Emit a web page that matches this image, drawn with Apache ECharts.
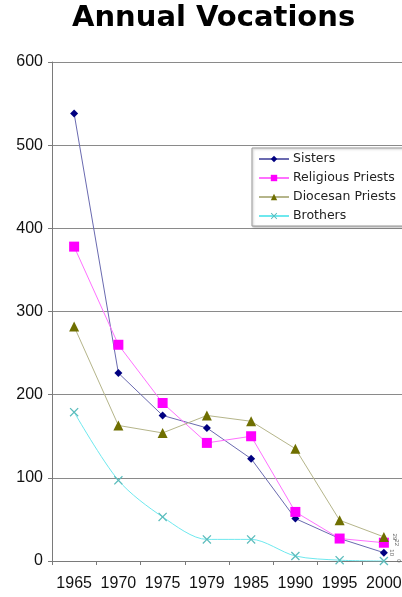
<!DOCTYPE html>
<html>
<head>
<meta charset="utf-8">
<script src="https://cdn.jsdelivr.net/npm/echarts@6/dist/echarts.min.js"></script>
<style>
  html, body { margin: 0; padding: 0; background: #fff; }
  #chart { width: 402px; height: 597px; }
</style>
</head>
<body>
<div id="chart"></div>
<script>
// Annual vocations by year
const years = ['1965', '1970', '1975', '1979', '1985', '1990', '1995', '2000'];
const sisters = [538, 226, 175, 160, 123, 51, 27, 10];
const religiousPriests = [378, 260, 190, 142, 150, 59, 27, 22];
const diocesanPriests = [282, 163, 154, 175, 168, 135, 49, 29];
const brothers = [179, 97, 53, 26, 26, 6, 1, 0];
const yTicks = { min: 0, max: 600, step: 100 };

const crossPath = 'path://M0,1L1,0L5,4L9,0L10,1L6,5L10,9L9,10L5,6L1,10L0,9L4,5Z';

// final-year values get a small rotated label beside the last point
function withEndLabel(values, dy) {
  return values.map((v, i) => i === values.length - 1 ? {
    value: v,
    label: {
      show: true, position: 'right', distance: 6, rotate: -90,
      align: 'center', verticalAlign: 'middle', offset: [0, dy],
      fontSize: 6, color: '#666', fontFamily: 'Liberation Sans'
    }
  } : v);
}

const chart = echarts.init(document.getElementById('chart'), null, { renderer: 'canvas' });
chart.setOption({
  animation: false,
  backgroundColor: '#fff',
  title: {
    text: 'Annual Vocations',
    left: 72, top: 4, padding: 0,
    textStyle: { fontFamily: 'DejaVu Sans', fontWeight: 'bold', fontSize: 29, color: '#000' }
  },
  legend: {
    orient: 'vertical',
    left: 252, top: 148,
    padding: [4, 12, 3, 6],
    itemWidth: 30, itemHeight: 8, itemGap: 5,
    backgroundColor: '#fff',
    borderColor: '#9a9a9a', borderWidth: 1,
    shadowColor: 'rgba(0,0,0,0.25)', shadowOffsetX: 1, shadowOffsetY: 1, shadowBlur: 2,
    textStyle: { fontFamily: 'DejaVu Sans', fontSize: 12.5, lineHeight: 14, color: '#222', padding: [0, 0, 0, -1] },
    data: ['Sisters', 'Religious Priests', 'Diocesan Priests', 'Brothers']
  },
  grid: { left: 52, top: 62, width: 354, height: 499, containLabel: false, outerBoundsMode: 'none' },
  xAxis: {
    type: 'category',
    data: years,
    boundaryGap: true,
    axisLine: { lineStyle: { color: '#7a7a7a', width: 1 } },
    axisTick: { show: true, length: 4, inside: false, lineStyle: { color: '#7a7a7a' } },
    axisLabel: { interval: 0, hideOverlap: false, margin: 15, fontFamily: 'Liberation Sans', fontSize: 16, color: '#111' },
    splitLine: { show: false }
  },
  yAxis: {
    type: 'value',
    min: yTicks.min, max: yTicks.max, interval: yTicks.step,
    axisLine: { show: true, lineStyle: { color: '#7a7a7a', width: 1 } },
    axisTick: { show: true, length: 4, lineStyle: { color: '#7a7a7a' } },
    axisLabel: { margin: 9, fontFamily: 'Liberation Sans', fontSize: 16, color: '#111' },
    splitLine: { show: true, lineStyle: { color: '#8a8a8a', width: 1 } }
  },
  series: [
    {
      name: 'Sisters', type: 'line',
      data: withEndLabel(sisters, 2),
      symbol: 'diamond', symbolSize: 8,
      itemStyle: { color: '#000080' },
      lineStyle: { color: '#6a6ab0', width: 1 }
    },
    {
      name: 'Religious Priests', type: 'line',
      data: withEndLabel(religiousPriests, -2),
      symbol: 'rect', symbolSize: 10,
      itemStyle: { color: '#ff00ff' },
      lineStyle: { color: '#ff70ff', width: 1 }
    },
    {
      name: 'Diocesan Priests', type: 'line',
      data: withEndLabel(diocesanPriests, 0),
      symbol: 'triangle', symbolSize: 10,
      itemStyle: { color: '#6f6f00' },
      lineStyle: { color: '#b5b58a', width: 1 }
    },
    {
      name: 'Brothers', type: 'line',
      data: withEndLabel(brothers, -4),
      smooth: 0.3,
      symbol: crossPath, symbolSize: 9,
      itemStyle: { color: '#5cbcbc' },
      lineStyle: { color: '#6ee8ee', width: 1 }
    }
  ]
});
</script>
</body>
</html>
